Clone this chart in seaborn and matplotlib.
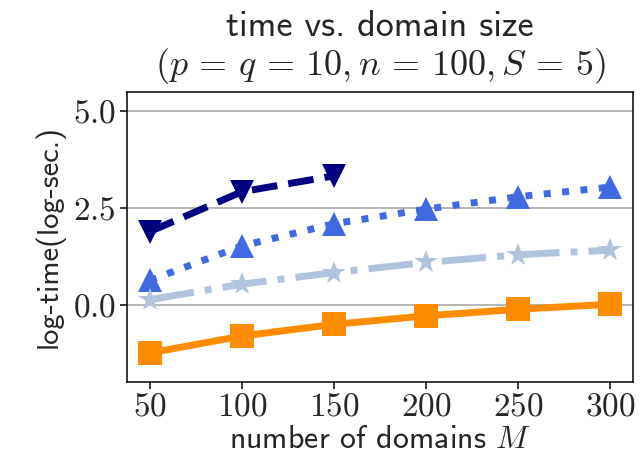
import matplotlib
matplotlib.use("Agg")
import matplotlib.pyplot as plt
from matplotlib.ticker import FuncFormatter
import seaborn as sns
import pandas as pd

# ---- data ----
domains = [50, 100, 150, 200, 250, 300]
series_names = ["method A", "method B", "method C", "method D"]
time_a = [1.89, 2.92, 3.33]                      # navy, dashed, down-triangle
time_b = [0.63, 1.52, 2.09, 2.47, 2.79, 3.04]    # royalblue, dotted, triangle
time_c = [0.13, 0.53, 0.83, 1.09, 1.29, 1.41]    # lightsteelblue, dash-dot, star
time_d = [-1.25, -0.81, -0.51, -0.29, -0.12, 0.01]  # darkorange, solid, square
y_ticks = [0.0, 2.5, 5.0]

rows = []
for name, vals in zip(series_names, [time_a, time_b, time_c, time_d]):
    for m, v in zip(domains, vals):
        rows.append({"M": m, "t": v, "series": name})
df = pd.DataFrame(rows)

sns.set_theme(style="ticks")
plt.rcParams.update({
    "mathtext.fontset": "cm",
    "font.family": ["cmss10", "DejaVu Sans"],
    "axes.unicode_minus": False,
})

palette = {"method A": "#000080", "method B": "#4169E1",
           "method C": "#B0C4DE", "method D": "#FF8C00"}
markers = {"method A": "v", "method B": "^", "method C": "*", "method D": "s"}
dashes = {"method A": (3.7, 1.6), "method B": (1, 1.65),
          "method C": (6.4, 1.6, 1, 1.6), "method D": ""}

fig = plt.figure(figsize=(6.41, 4.69), dpi=100)
ax = fig.add_axes([0.198, 0.1855, 0.7895, 0.6185])

sns.lineplot(data=df, x="M", y="t", hue="series", style="series",
             hue_order=series_names, style_order=series_names,
             palette=palette, markers=markers, dashes=dashes,
             linewidth=5, markersize=17.5, markeredgewidth=0,
             legend=False, ax=ax, zorder=3)

ax.set_xlim(37.5, 312.5)
ax.set_ylim(-2.0, 5.5)
ax.set_xticks(domains)
ax.set_yticks(y_ticks)
ax.xaxis.set_major_formatter(FuncFormatter(lambda v, p: f"${int(round(v))}$"))
ax.yaxis.set_major_formatter(FuncFormatter(lambda v, p: f"${v:.1f}$"))
ax.yaxis.grid(True, color="#b0b0b0", linewidth=1.3, zorder=0)
ax.set_axisbelow(True)
for s in ax.spines.values():
    s.set_color("black")
    s.set_linewidth(1.1)
ax.tick_params(axis="both", direction="out", length=4.8, width=1.1,
               color="black", labelsize=24, pad=3)

ax.set_xlabel("number of domains $M$", fontsize=23, labelpad=2)
ax.set_ylabel("log-time(log-sec.)", fontsize=22, labelpad=6)
ax.set_title("time vs. domain size\n"
             r"$(p\,=\,q\,=\,10,n\,=\,100,S\,=\,5)$",
             fontsize=26, linespacing=1.12, pad=12)

fig.savefig("out.png", dpi=100)
